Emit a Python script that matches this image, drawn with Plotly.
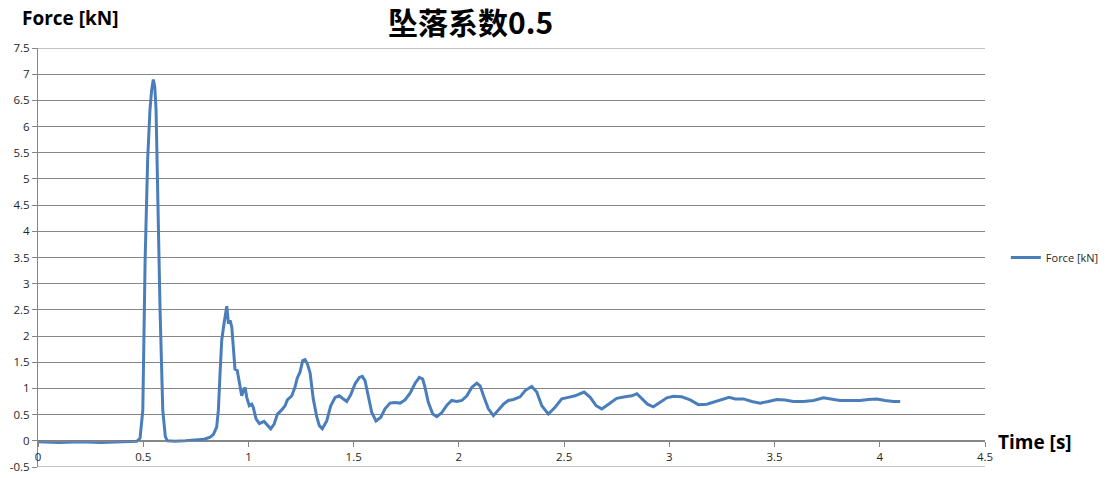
import plotly.graph_objects as go

# Time [s]
time_s = [
    0.0, 0.1, 0.2, 0.3, 0.4, 0.47, 0.485, 0.498, 0.509, 0.521,
    0.532, 0.540, 0.548, 0.555, 0.561, 0.569, 0.580, 0.593, 0.605, 0.615,
    0.65, 0.70, 0.75, 0.79, 0.818, 0.833, 0.849, 0.857, 0.865, 0.873,
    0.884, 0.897, 0.905, 0.913, 0.921, 0.928, 0.936, 0.947, 0.957, 0.968,
    0.976, 0.984, 0.992, 1.004, 1.016, 1.023, 1.036, 1.052, 1.074, 1.087,
    1.106, 1.122, 1.138, 1.158, 1.174, 1.185, 1.206, 1.221, 1.232, 1.245,
    1.258, 1.269, 1.280, 1.293, 1.308, 1.325, 1.337, 1.351, 1.372, 1.391,
    1.412, 1.431, 1.451, 1.467, 1.486, 1.507, 1.527, 1.541, 1.554, 1.570,
    1.586, 1.606, 1.629, 1.649, 1.673, 1.697, 1.721, 1.744, 1.768, 1.792,
    1.812, 1.828, 1.839, 1.855, 1.876, 1.895, 1.919, 1.943, 1.966, 1.990,
    2.014, 2.038, 2.061, 2.085, 2.101, 2.117, 2.140, 2.164, 2.188, 2.212,
    2.235, 2.259, 2.291, 2.315, 2.346, 2.370, 2.394, 2.425, 2.457, 2.489,
    2.520, 2.552, 2.595, 2.624, 2.652, 2.679, 2.711, 2.750, 2.790, 2.822,
    2.846, 2.870, 2.896, 2.924, 2.956, 2.988, 3.020, 3.059, 3.099, 3.138,
    3.178, 3.218, 3.257, 3.284, 3.313, 3.352, 3.392, 3.432, 3.471, 3.511,
    3.550, 3.590, 3.637, 3.685, 3.732, 3.764, 3.811, 3.858, 3.906, 3.946,
    3.986, 4.025, 4.065, 4.097,
]

# Force [kN]
force_kn = [
    -0.02, -0.03, -0.02, -0.03, -0.02, -0.01, 0.05, 0.58, 3.45, 5.36,
    6.32, 6.70, 6.90, 6.75, 6.32, 4.40, 2.49, 0.58, 0.08, 0.00,
    -0.01, 0.00, 0.01, 0.03, 0.07, 0.12, 0.26, 0.58, 1.28, 1.92,
    2.24, 2.57, 2.24, 2.30, 2.17, 1.72, 1.37, 1.34, 1.09, 0.86,
    0.96, 1.02, 0.83, 0.67, 0.70, 0.64, 0.42, 0.33, 0.37, 0.31,
    0.23, 0.32, 0.51, 0.59, 0.67, 0.78, 0.86, 1.02, 1.20, 1.31,
    1.53, 1.55, 1.47, 1.30, 0.80, 0.45, 0.29, 0.23, 0.38, 0.67,
    0.83, 0.86, 0.80, 0.75, 0.88, 1.09, 1.21, 1.23, 1.15, 0.83,
    0.54, 0.38, 0.45, 0.61, 0.72, 0.73, 0.72, 0.78, 0.91, 1.10,
    1.21, 1.18, 1.02, 0.73, 0.51, 0.46, 0.54, 0.68, 0.77, 0.75,
    0.77, 0.86, 1.02, 1.10, 1.05, 0.86, 0.61, 0.48, 0.58, 0.70,
    0.77, 0.79, 0.84, 0.96, 1.04, 0.93, 0.67, 0.51, 0.64, 0.80,
    0.83, 0.86, 0.93, 0.83, 0.67, 0.61, 0.70, 0.81, 0.84, 0.86,
    0.90, 0.80, 0.70, 0.65, 0.73, 0.82, 0.85, 0.84, 0.78, 0.69,
    0.70, 0.75, 0.79, 0.83, 0.80, 0.80, 0.75, 0.72, 0.75, 0.79,
    0.78, 0.75, 0.75, 0.77, 0.82, 0.80, 0.77, 0.77, 0.77, 0.79,
    0.80, 0.77, 0.75, 0.75,
]

y_ticks = [-0.5, 0, 0.5, 1, 1.5, 2, 2.5, 3, 3.5, 4, 4.5, 5, 5.5, 6, 6.5, 7, 7.5]
y_tick_text = ["-0.5", "0", "0.5", "1", "1.5", "2", "2.5", "3", "3.5", "4",
               "4.5", "5", "5.5", "6", "6.5", "7", "7.5"]
x_ticks = [0, 0.5, 1, 1.5, 2, 2.5, 3, 3.5, 4, 4.5]
x_tick_text = ["0", "0.5", "1", "1.5", "2", "2.5", "3", "3.5", "4", "4.5"]

title_text = "坠落系数0.5"
series_name = "Force [kN]"
y_title = "Force [kN]"
x_title = "Time [s]"

GRID = "#868686"
LINE = "#4A7EBB"
TXT = "#262626"

fig = go.Figure()
fig.add_trace(go.Scatter(
    x=time_s, y=force_kn, mode="lines", name=series_name,
    line=dict(color=LINE, width=3), showlegend=True,
))

# the page body adds an 8px offset, so the figure is 8px smaller on each axis
fig.update_layout(
    width=1104, height=470,
    margin=dict(l=30, r=127, t=40, b=11, autoexpand=False),
    paper_bgcolor="white", plot_bgcolor="white",
    font=dict(family="Open Sans", size=11, color=TXT),
    showlegend=True,
    legend=dict(x=1.022, y=0.5, xanchor="left", yanchor="middle",
                font=dict(family="Open Sans", size=11, color=TXT),
                bgcolor="rgba(0,0,0,0)"),
    xaxis=dict(range=[0, 4.5], tickvals=x_ticks, ticktext=x_tick_text,
               showgrid=False, zeroline=False, showline=True,
               linecolor=GRID, linewidth=1, ticks="outside", ticklen=5,
               tickcolor=GRID, anchor="free", position=0.0625,
               automargin=False, tickfont=dict(size=11.5, color=TXT)),
    yaxis=dict(range=[-0.5, 7.5], tickvals=y_ticks, ticktext=y_tick_text,
               showgrid=True, gridcolor=GRID, gridwidth=1, zeroline=False,
               showline=True, linecolor=GRID, linewidth=1, ticks="outside",
               ticklen=5, tickcolor=GRID, automargin=False,
               tickfont=dict(size=11.5, color=TXT)),
)

# edge gridlines (top 7.5 and bottom -0.5) drawn from the y-axis range
for yv in (y_ticks[0], y_ticks[-1]):
    fig.add_shape(type="line", xref="paper", yref="y", x0=0, x1=1, y0=yv, y1=yv,
                  line=dict(color=GRID, width=1), layer="below")

fig.add_annotation(text="<b>" + title_text + "</b>", xref="paper", yref="paper",
                   x=0.457, y=1.064, xanchor="center", yanchor="middle",
                   showarrow=False,
                   font=dict(family="Noto Sans CJK SC", size=30, color="#000000"))
fig.add_annotation(text="<b>" + y_title + "</b>", xref="paper", yref="paper",
                   x=0.0338, y=1.0716, xanchor="center", yanchor="middle",
                   showarrow=False,
                   font=dict(family="Open Sans", size=19, color="#000000"))
fig.add_annotation(text="<b>" + x_title + "</b>", xref="paper", yref="paper",
                   x=1.053, y=0.0597, xanchor="center", yanchor="middle",
                   showarrow=False,
                   font=dict(family="Open Sans", size=19, color="#000000"))

fig.write_html("out.html")
